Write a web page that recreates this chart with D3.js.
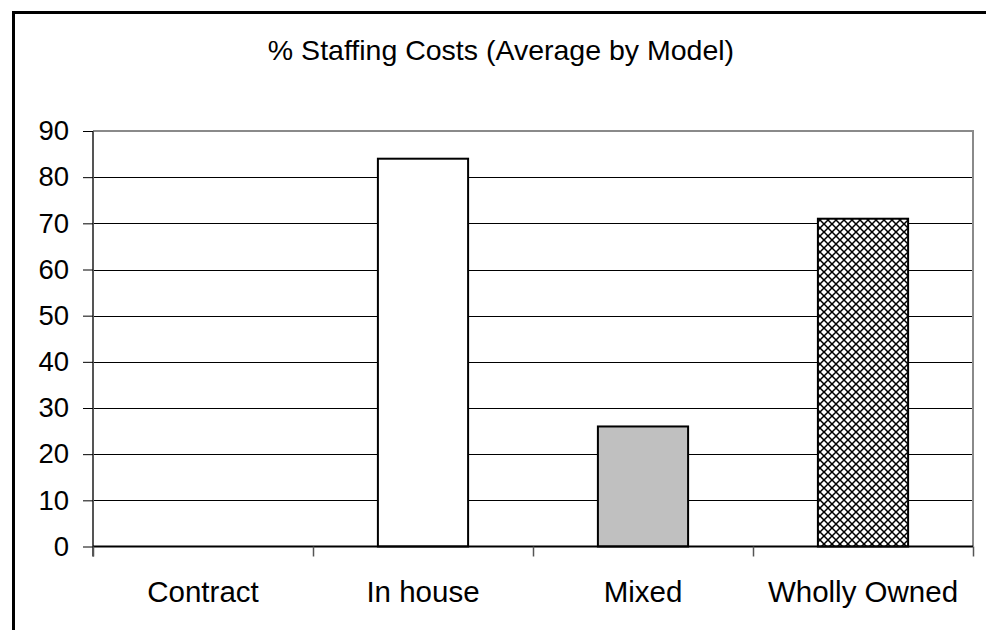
<!DOCTYPE html>
<html>
<head>
<meta charset="utf-8">
<script src="https://cdn.jsdelivr.net/npm/d3@7"></script>
<style>
  html, body { margin: 0; padding: 0; background: #fff; }
  svg { display: block; font-family: Arial, "Liberation Sans", sans-serif; }
</style>
</head>
<body>
<svg id="chart" width="986" height="630"></svg>
<script>
// Average share of staffing costs, by operating model
const categories = ["Contract", "In house", "Mixed", "Wholly Owned"];
const values = [0, 84, 26, 71];
const fills = ["#ffffff", "#ffffff", "#c0c0c0", "url(#crosshatch)"];
const yTicks = [0, 10, 20, 30, 40, 50, 60, 70, 80, 90];
const title = "% Staffing Costs (Average by Model)";

const svg = d3.select("#chart");
const plot = { left: 93, top: 131, right: 973, bottom: 546.5 };

// crosshatch pattern for the last bar
const defs = svg.append("defs");
const pat = defs.append("pattern")
  .attr("id", "crosshatch")
  .attr("patternUnits", "userSpaceOnUse")
  .attr("width", 8).attr("height", 8);
pat.append("rect").attr("width", 8).attr("height", 8).attr("fill", "#fff");
pat.append("path")
  .attr("d", "M0,0 L8,8 M8,0 L0,8")
  .attr("stroke", "#000").attr("stroke-width", 1.5).attr("fill", "none");

// outer frame
svg.append("rect")
  .attr("x", 13.5).attr("y", 12.5)
  .attr("width", 1000).attr("height", 700)
  .attr("fill", "none").attr("stroke", "#000").attr("stroke-width", 3);

// title
svg.append("text")
  .attr("x", 501).attr("y", 60)
  .attr("text-anchor", "middle")
  .attr("font-size", 28.5)
  .attr("fill", "#000")
  .text(title);

const x = d3.scaleBand()
  .domain(categories)
  .range([plot.left, plot.right])
  .paddingInner(0.59).paddingOuter(0.295);

const xOuter = d3.scaleBand()
  .domain(categories)
  .range([plot.left, plot.right]);

const y = d3.scaleLinear()
  .domain([0, 90])
  .range([plot.bottom, plot.top]);

// gridlines
svg.append("g")
  .selectAll("line")
  .data(yTicks.filter(t => t > 0 && t < 90))
  .join("line")
  .attr("x1", plot.left).attr("x2", plot.right)
  .attr("y1", d => Math.round(y(d)) + 0.5).attr("y2", d => Math.round(y(d)) + 0.5)
  .attr("stroke", "#000").attr("stroke-width", 1);

// plot-area border (top and right)
svg.append("path")
  .attr("d", `M${plot.left},${plot.top} H${plot.right} V${plot.bottom}`)
  .attr("fill", "none").attr("stroke", "#8a8a8a").attr("stroke-width", 2);

// bars
svg.append("g")
  .selectAll("rect")
  .data(categories.map((c, i) => ({ c, v: values[i], f: fills[i] })).filter(d => d.v > 0))
  .join("rect")
  .attr("x", d => x(d.c))
  .attr("y", d => y(d.v))
  .attr("width", x.bandwidth())
  .attr("height", d => y(0) - y(d.v))
  .attr("fill", d => d.f)
  .attr("stroke", "#000").attr("stroke-width", 2);

// y axis
const yAxis = d3.axisLeft(y).tickValues(yTicks).tickSize(10).tickPadding(14).tickFormat(d3.format("d"));
const gy = svg.append("g")
  .attr("transform", `translate(${plot.left},0)`)
  .call(yAxis);
gy.select(".domain").attr("stroke", "#555").attr("stroke-width", 2).attr("d", `M0,${plot.top}V${plot.bottom + 10}`);
gy.selectAll(".tick line").attr("stroke", "#000");
gy.selectAll(".tick text")
  .attr("font-size", 27.5).attr("fill", "#000")
  .attr("font-family", "Arial, 'Liberation Sans', sans-serif");

// x axis: baseline with ticks at category boundaries
const gx = svg.append("g");
gx.append("line")
  .attr("x1", plot.left).attr("x2", plot.right)
  .attr("y1", plot.bottom).attr("y2", plot.bottom)
  .attr("stroke", "#000").attr("stroke-width", 2);
const bounds = categories.map(c => xOuter(c)).concat([plot.right]);
gx.selectAll("line.tick")
  .data(bounds)
  .join("line")
  .attr("class", "tick")
  .attr("x1", d => Math.round(d) + 0.5).attr("x2", d => Math.round(d) + 0.5)
  .attr("y1", plot.bottom).attr("y2", plot.bottom + 10)
  .attr("stroke", "#555").attr("stroke-width", 1.5);
gx.selectAll("text")
  .data(categories)
  .join("text")
  .attr("x", d => xOuter(d) + xOuter.bandwidth() / 2)
  .attr("y", 602)
  .attr("text-anchor", "middle")
  .attr("font-size", 29.5)
  .attr("fill", "#000")
  .text(d => d);
</script>
</body>
</html>
